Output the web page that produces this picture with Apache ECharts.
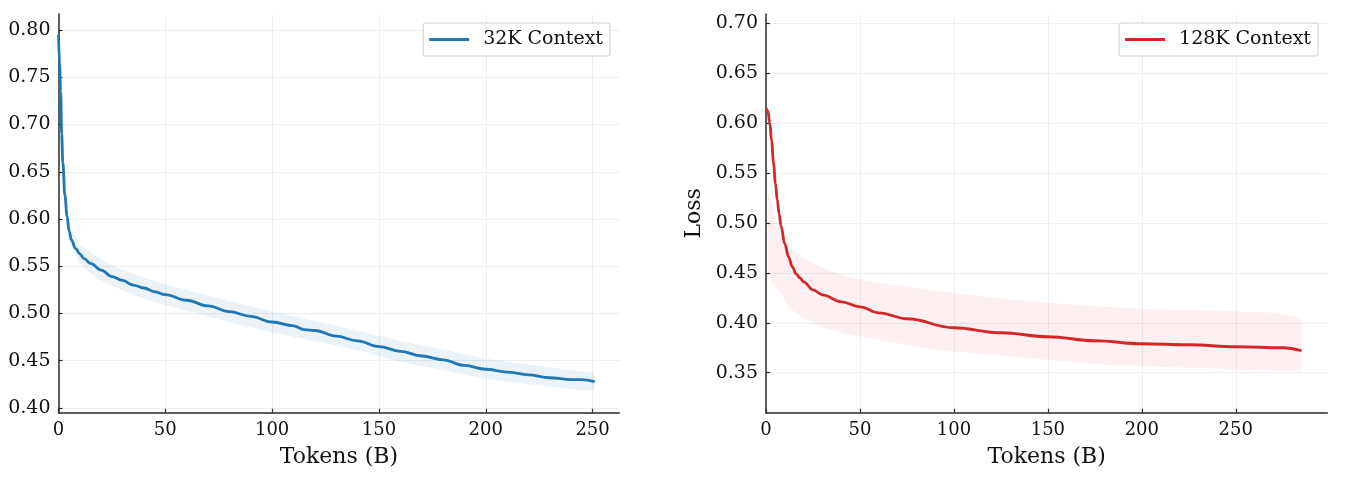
<!DOCTYPE html>
<html>
<head>
<meta charset="utf-8">
<title>Loss curves</title>
<script src="https://cdn.jsdelivr.net/npm/echarts@6/dist/echarts.min.js"></script>
<style>
html, body { margin: 0; padding: 0; background: #fff; }
#chart { width: 1365px; height: 495px; }
</style>
</head>
<body>
<div id="chart"></div>
<script>
// 32K context - smoothed loss
var x32 = [0, 0.5, 1, 1.5, 2, 3, 4, 5, 6, 8, 10, 12, 15, 20, 25, 30, 35, 40, 45, 50, 60, 70, 80, 90, 100, 110, 115, 120, 130, 140, 150, 160, 170, 180, 190, 200, 210, 220, 230, 240, 245, 251];
var loss32 = [0.795, 0.765, 0.735, 0.69, 0.66, 0.625, 0.603, 0.587, 0.578, 0.569, 0.563, 0.558, 0.553, 0.546, 0.539, 0.535, 0.530, 0.527, 0.523, 0.520, 0.514, 0.508, 0.502, 0.497, 0.491, 0.487, 0.483, 0.482, 0.476, 0.471, 0.465, 0.460, 0.455, 0.451, 0.445, 0.441, 0.438, 0.435, 0.432, 0.430, 0.430, 0.428];
// 32K context - raw loss spread (low / high envelope)
var band32X = [0, 2, 5, 10, 15, 20, 30, 40, 50, 60, 80, 100, 120, 140, 160, 180, 200, 220, 240, 251];
var band32Lo = [0.780, 0.640, 0.575, 0.553, 0.542, 0.535, 0.524, 0.516, 0.509, 0.503, 0.491, 0.480, 0.471, 0.461, 0.449, 0.440, 0.431, 0.425, 0.420, 0.418];
var band32Hi = [0.800, 0.670, 0.595, 0.572, 0.565, 0.557, 0.546, 0.538, 0.531, 0.525, 0.513, 0.502, 0.492, 0.482, 0.471, 0.462, 0.452, 0.446, 0.440, 0.437];

// 128K context - smoothed loss
var x128 = [0, 1, 2, 3, 4, 5, 6, 7, 8, 10, 12, 14, 16, 18, 20, 25, 30, 40, 50, 60, 75, 100, 125, 150, 175, 200, 225, 250, 275, 285];
var loss128 = [0.615, 0.612, 0.600, 0.582, 0.560, 0.540, 0.523, 0.509, 0.497, 0.479, 0.466, 0.456, 0.449, 0.445, 0.441, 0.433, 0.428, 0.421, 0.416, 0.410, 0.404, 0.395, 0.390, 0.386, 0.382, 0.379, 0.378, 0.376, 0.375, 0.372];
// 128K context - raw loss spread
var band128X = [1, 3, 5, 8, 12, 20, 30, 45, 60, 90, 120, 150, 180, 210, 240, 270, 285];
var band128Lo = [0.450, 0.440, 0.435, 0.430, 0.415, 0.405, 0.395, 0.388, 0.383, 0.373, 0.368, 0.363, 0.358, 0.356, 0.354, 0.352, 0.352];
var band128Hi = [0.530, 0.520, 0.500, 0.490, 0.475, 0.465, 0.455, 0.445, 0.440, 0.432, 0.425, 0.420, 0.416, 0.413, 0.412, 0.410, 0.405];

// tick labels
var xTicks = [0, 50, 100, 150, 200, 250];
var yTicks32 = [0.40, 0.45, 0.50, 0.55, 0.60, 0.65, 0.70, 0.75, 0.80];
var yTicks128 = [0.35, 0.40, 0.45, 0.50, 0.55, 0.60, 0.65, 0.70];

var FONT = 'DejaVu Serif';
var AXIS_COLOR = '#2b2b2b';
var GRID_COLOR = '#eeeeee';

function pairs(xs, ys) {
    return xs.map(function (x, i) { return [x, ys[i]]; });
}

function xAxisOpt(gridIndex, max) {
    return {
        type: 'value',
        gridIndex: gridIndex,
        min: 0,
        max: max,
        name: 'Tokens (B)',
        nameLocation: 'middle',
        nameGap: 34,
        nameTextStyle: { fontFamily: FONT, fontSize: 22, color: '#111' },
        axisLine: { show: true, onZero: false, lineStyle: { color: AXIS_COLOR, width: 1.5 } },
        axisTick: { show: true, inside: true, length: 4, customValues: xTicks, lineStyle: { color: AXIS_COLOR, width: 1.2 } },
        axisLabel: { customValues: xTicks, fontFamily: FONT, fontSize: 18, color: '#111', margin: 9 },
        splitLine: { show: true, lineStyle: { color: GRID_COLOR, width: 1 } }
    };
}

function yAxisOpt(gridIndex, min, max, ticks, name) {
    var o = {
        type: 'value',
        gridIndex: gridIndex,
        min: min,
        max: max,
        axisLine: { show: true, onZero: false, lineStyle: { color: AXIS_COLOR, width: 1.5 } },
        axisTick: { show: true, inside: true, length: 4, customValues: ticks, lineStyle: { color: AXIS_COLOR, width: 1.2 } },
        axisLabel: {
            customValues: ticks,
            fontFamily: FONT, fontSize: 19, color: '#111', margin: 8,
            formatter: function (v) { return v.toFixed(2); }
        },
        splitLine: { show: true, lineStyle: { color: GRID_COLOR, width: 1 } }
    };
    if (name) {
        o.name = name;
        o.nameLocation = 'middle';
        o.nameGap = 61;
        o.nameTextStyle = { fontFamily: FONT, fontSize: 22, color: '#111' };
    }
    return o;
}

function legendOpt(name, right) {
    return {
        data: [name],
        right: right,
        top: 23,
        orient: 'vertical',
        icon: 'rect',
        backgroundColor: '#fff',
        borderColor: '#cccccc',
        borderWidth: 1,
        borderRadius: 2,
        padding: [7, 7, 7, 6],
        itemWidth: 40,
        itemHeight: 3,
        itemGap: 0,
        textStyle: { fontFamily: FONT, fontSize: 19, color: '#111', padding: [0, 0, 0, 9], lineHeight: 19 }
    };
}

// light spread band drawn as one polygon between the low and high envelopes
function bandSeries(idx, xs, lo, hi, color, opacity) {
    return {
        type: 'custom',
        xAxisIndex: idx, yAxisIndex: idx,
        data: [0],
        silent: true,
        clip: true,
        z: 1,
        renderItem: function (params, api) {
            var pts = [];
            for (var i = 0; i < xs.length; i++) pts.push(api.coord([xs[i], hi[i]]));
            for (var j = xs.length - 1; j >= 0; j--) pts.push(api.coord([xs[j], lo[j]]));
            return {
                type: 'polygon',
                shape: { points: pts },
                style: { fill: color, opacity: opacity }
            };
        }
    };
}

var chart = echarts.init(document.getElementById('chart'), null, { renderer: 'canvas' });

var option = {
    backgroundColor: '#fff',
    animation: false,
    textStyle: { fontFamily: FONT },
    grid: [
        { left: 58.5, right: 745.7, top: 14, bottom: 82.3 },
        { left: 766, right: 37.7, top: 14, bottom: 82.3 }
    ],
    legend: [
        legendOpt('32K Context', 755),
        legendOpt('128K Context', 47)
    ],
    xAxis: [xAxisOpt(0, 262.5), xAxisOpt(1, 298.7)],
    yAxis: [
        yAxisOpt(0, 0.395, 0.817, yTicks32),
        yAxisOpt(1, 0.310, 0.709, yTicks128, 'Loss')
    ],
    series: [
        bandSeries(0, band32X, band32Lo, band32Hi, '#1f77b4', 0.09),
        bandSeries(1, band128X, band128Lo, band128Hi, '#d62728', 0.07),
        {
            name: '32K Context',
            type: 'line',
            xAxisIndex: 0, yAxisIndex: 0,
            data: pairs(x32, loss32),
            symbol: 'none',
            smooth: 0.4,
            smoothMonotone: 'x',
            lineStyle: { color: '#1f77b4', width: 2.8 },
            itemStyle: { color: '#1f77b4' },
            z: 3
        }, {
            name: '128K Context',
            type: 'line',
            xAxisIndex: 1, yAxisIndex: 1,
            data: pairs(x128, loss128),
            symbol: 'none',
            smooth: 0.4,
            smoothMonotone: 'x',
            lineStyle: { color: '#d62728', width: 2.8 },
            itemStyle: { color: '#d62728' },
            z: 3
        }
    ]
};

chart.setOption(option);
</script>
</body>
</html>
